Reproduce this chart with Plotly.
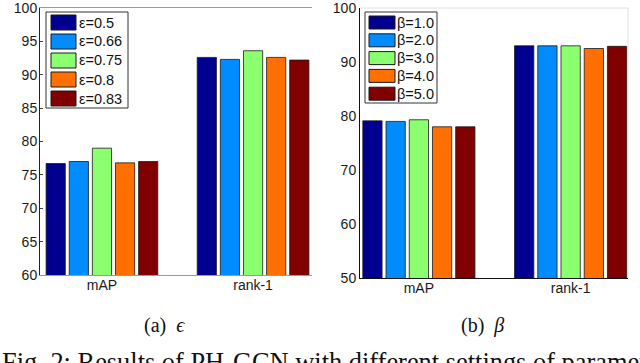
import plotly.graph_objects as go

W, H = 640, 363

categories = ["mAP", "rank-1"]
colors = ["#000090", "#008CFF", "#8CFF70", "#FF7000", "#800000"]

eps_labels = ["ε=0.5", "ε=0.66", "ε=0.75", "ε=0.8", "ε=0.83"]
eps_map = [76.7, 77.0, 79.0, 76.8, 77.0]
eps_rank1 = [92.6, 92.3, 93.6, 92.6, 92.2]

beta_labels = ["β=1.0", "β=2.0", "β=3.0", "β=4.0", "β=5.0"]
beta_map = [79.1, 79.0, 79.3, 78.0, 78.0]
beta_rank1 = [93.0, 93.0, 93.0, 92.5, 92.9]

eps_ticks = [60, 65, 70, 75, 80, 85, 90, 95, 100]
beta_ticks = [50, 60, 70, 80, 90, 100]


def px(x):
    return x / W


def py(y):
    return 1 - y / H


fig = go.Figure()

for i, name in enumerate(eps_labels):
    fig.add_trace(go.Bar(
        x=categories, y=[eps_map[i], eps_rank1[i]], name=name,
        marker=dict(color=colors[i], line=dict(color="#1a1a1a", width=0.8)),
        xaxis="x", yaxis="y", showlegend=False, hoverinfo="skip",
    ))
for i, name in enumerate(beta_labels):
    fig.add_trace(go.Bar(
        x=categories, y=[beta_map[i], beta_rank1[i]], name=name,
        marker=dict(color=colors[i], line=dict(color="#1a1a1a", width=0.8)),
        xaxis="x2", yaxis="y2", showlegend=False, hoverinfo="skip",
    ))

SANS = "Liberation Sans"
tickfont = dict(family=SANS, size=14, color="#1a1a1a")

axis_common = dict(showgrid=False, zeroline=False, automargin=False, tickfont=tickfont)

fig.update_layout(
    width=W, height=H,
    margin=dict(l=0, r=0, t=0, b=0),
    paper_bgcolor="white", plot_bgcolor="white",
    font=dict(family=SANS),
    barmode="group", bargap=0.235, bargroupgap=0.17,
    xaxis=dict(domain=[px(40), px(312)], anchor="y", type="category",
               range=[-0.41, 1.39], showline=True, linecolor="#9a9a9a",
               linewidth=1, mirror=True, ticks="", ticklabelstandoff=-3,
               **axis_common),
    yaxis=dict(domain=[py(275), py(8)], anchor="x", range=[60, 100],
               tickvals=eps_ticks, showline=True, linecolor="#222222",
               linewidth=1, ticks="inside", ticklen=3, tickcolor="#444444",
               ticklabelstandoff=-1, ticklabeloverflow="allow", **axis_common),
    xaxis2=dict(domain=[px(360), px(628)], anchor="y2", type="category",
                range=[-0.388, 1.378], showline=True, linecolor="#111111",
                linewidth=1, ticks="", ticklabelstandoff=-3, **axis_common),
    yaxis2=dict(domain=[py(278), py(8)], anchor="x2", range=[50, 100],
                tickvals=beta_ticks, showline=True, linecolor="#111111",
                linewidth=1, ticks="", ticklabelstandoff=0,
                ticklabeloverflow="allow", **axis_common),
)

# light box edges (top / right) for right plot
shapes = [
    dict(type="line", xref="paper", yref="paper", x0=px(360), x1=px(628),
         y0=py(8), y1=py(8), line=dict(color="#e0e0e0", width=1)),
    dict(type="line", xref="paper", yref="paper", x0=px(628), x1=px(628),
         y0=py(8), y1=py(278), line=dict(color="#e0e0e0", width=1)),
]
annotations = []

# custom legends
legend_specs = [
    dict(labels=eps_labels, box=(46, 12, 128, 108), sw_x=(51, 76), sw_y0=15,
         sw_h=15, step=19.0, tx=77, fs=14.5),
    dict(labels=beta_labels, box=(365, 12, 437, 103), sw_x=(369, 395), sw_y0=16,
         sw_h=13, step=17.8, tx=395, fs=14.5),
]
for spec in legend_specs:
    x0, y0, x1, y1 = spec["box"]
    shapes.append(dict(type="rect", xref="paper", yref="paper",
                       x0=px(x0), x1=px(x1), y0=py(y1), y1=py(y0),
                       fillcolor="white", line=dict(color="#333333", width=1)))
    for i, lab in enumerate(spec["labels"]):
        top = spec["sw_y0"] + i * spec["step"]
        shapes.append(dict(type="rect", xref="paper", yref="paper",
                           x0=px(spec["sw_x"][0]), x1=px(spec["sw_x"][1]),
                           y0=py(top + spec["sw_h"]), y1=py(top),
                           fillcolor=colors[i], line=dict(color="#1a1a1a", width=1)))
        annotations.append(dict(xref="paper", yref="paper", x=px(spec["tx"]),
                                y=py(top + spec["sw_h"] / 2), text=lab,
                                showarrow=False, xanchor="left", yanchor="middle",
                                font=dict(family=SANS, size=spec["fs"], color="#111111")))

serif = "Liberation Serif"
annotations.append(dict(xref="paper", yref="paper", x=px(164), y=py(325),
                        text="(a)  <i>ϵ</i>", showarrow=False, xanchor="center",
                        yanchor="middle", font=dict(family=serif, size=20, color="#111111")))
annotations.append(dict(xref="paper", yref="paper", x=px(482), y=py(325),
                        text="(b)  <i>β</i>", showarrow=False, xanchor="center",
                        yanchor="middle", font=dict(family=serif, size=20, color="#111111")))
annotations.append(dict(xref="paper", yref="paper", x=0, y=py(362),
                        text="Fig. 2: Results of PH-GCN with different settings of parameters",
                        showarrow=False, xanchor="left", yanchor="middle",
                        font=dict(family=serif, size=26.4, color="#111111")))

fig.update_layout(shapes=shapes, annotations=annotations, hovermode=False)

fig.write_html("out.html", config={"displayModeBar": False},
               post_script="document.body.style.margin='0';")
